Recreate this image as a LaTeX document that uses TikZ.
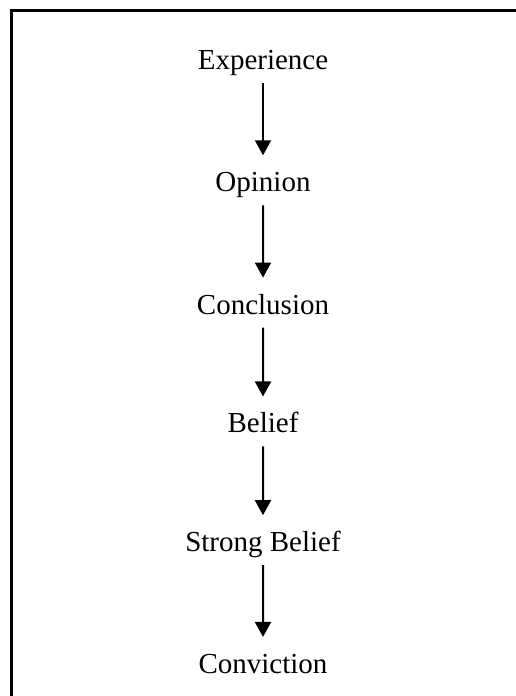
\documentclass[tikz,border=0pt]{standalone}
\usepackage{fontspec}
\setmainfont{Liberation Serif}
\usetikzlibrary{arrows.meta,positioning}

\begin{document}
\begin{tikzpicture}[
  x=1pt, y=1pt,
  level distance=128.8pt,
  every node/.style={anchor=base, inner sep=0pt, font=\fontsize{29}{34}\selectfont},
  parent anchor=base, child anchor=base,
  edge from parent/.style={draw, line width=2pt, -{Triangle[length=15pt,width=16pt]}, shorten <=13.5pt, shorten >=36.5pt}
]
\useasboundingbox (0,0) rectangle (515,-696);
% frame, open at the bottom
\draw[line width=3pt] (11,-700) -- (11,-10) -- (520,-10);
\node (exp) at (263,-69.5) {Experience}
  child { node (opi) {Opinion}
    child { node (con) {Conclusion}
      child { node (bel) {Belief}
        child { node (sbel) {Strong Belief}
          child { node (conv) {Conviction} }
        }
      }
    }
  };
\end{tikzpicture}
\end{document}
